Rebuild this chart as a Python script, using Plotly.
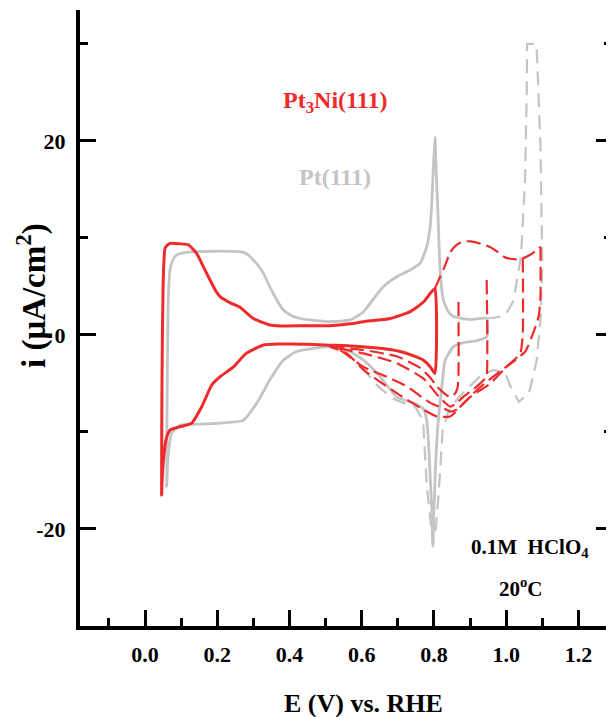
import plotly.graph_objects as go

# ---------------- data ----------------
# Pt3Ni(111), solid CV to 0.8 V
ptni_E = [0.046, 0.047, 0.050, 0.056, 0.069, 0.095, 0.120, 0.143, 0.162, 0.180, 0.195, 0.208, 0.235, 0.263,
          0.300, 0.346, 0.374, 0.45, 0.51, 0.568, 0.605, 0.679, 0.734, 0.771, 0.790, 0.803,
          0.803, 0.790, 0.771, 0.740, 0.706, 0.651, 0.568, 0.512, 0.45, 0.374, 0.328, 0.280, 0.245,
          0.208, 0.185, 0.157, 0.129, 0.097, 0.069, 0.058, 0.052, 0.048, 0.046]
ptni_i = [-16.5, -5, 5, 9.0, 9.45, 9.4, 9.3, 8.4, 7.0, 5.67, 4.6, 3.95, 3.33, 2.85,
          1.7, 1.03, 0.93, 0.95, 0.96, 1.15, 1.37, 1.7, 2.4, 3.4, 4.3, 4.8,
          -3.96, -3.3, -2.6, -2.1, -1.7, -1.37, -1.13, -1.05, -0.95, -0.93, -1.03, -1.9, -3.3,
          -4.3, -5.15, -7.4, -9.1, -9.45, -9.8, -10.8, -12.5, -14.5, -16.5]

# Pt(111), solid CV to 0.95 V
pt_E = [0.060, 0.061, 0.064, 0.069, 0.078, 0.088, 0.11, 0.143, 0.20, 0.263, 0.28, 0.291, 0.31, 0.328,
        0.345, 0.365, 0.38, 0.402, 0.43, 0.457, 0.51, 0.568, 0.605, 0.63, 0.66, 0.697, 0.734, 0.762,
        0.78, 0.789, 0.794, 0.798, 0.803, 0.806, 0.81, 0.817, 0.826, 0.84, 0.854, 0.90, 0.946,
        0.946, 0.919, 0.882, 0.854, 0.831, 0.822, 0.812, 0.805, 0.800, 0.797, 0.794, 0.790, 0.785,
        0.780, 0.77, 0.743, 0.697, 0.651, 0.605, 0.559, 0.512, 0.42, 0.383, 0.346, 0.31, 0.272,
        0.235, 0.15, 0.097, 0.074, 0.064, 0.060]
pt_i = [-15.6, -8, 3, 6.7, 7.8, 8.25, 8.5, 8.6, 8.65, 8.6, 8.4, 8.07, 7.3, 6.35,
        5.0, 3.6, 2.7, 2.06, 1.7, 1.55, 1.37, 1.55, 2.4, 3.6, 4.98, 6.0, 6.7, 7.4,
        9.1, 11, 13.6, 17, 20.4, 17, 13.6, 6.7, 3.6, 2.4, 1.9, 1.6, 1.7,
        -0.17, -0.58, -0.79, -1.2, -2.6, -5.3, -8.8, -13, -18, -21.8, -18, -15, -11,
        -8.8, -7.6, -7.0, -6.4, -4.3, -2.6, -1.55, -1.2, -1.7, -2.6, -4.6, -7.0, -8.8,
        -9.0, -9.2, -9.3, -10.1, -12.5, -15.6]

# Pt(111), dashed extension to 1.1 V
ptd_E = [0.946, 0.97, 0.997, 1.02, 1.041, 1.052, 1.057, 1.058, 1.084, 1.090, 1.095, 1.10, 1.095,
         1.084, 1.063, 1.035, 1.014, 0.997, 0.965, 0.932, 0.90, 0.867, 0.84, 0.824, 0.813, 0.805,
         0.797, 0.788, 0.78, 0.77, 0.748, 0.715, 0.683, 0.64, 0.60]
ptd_i = [1.7, 1.8, 2.0, 3.5, 8.1, 15.7, 25, 30, 30, 25, 19.5, 7.2, 1.5,
         -2.7, -6.0, -6.9, -5.5, -3.9, -3.6, -4.1, -5.3, -6.5, -7.9, -9.8, -16.4, -20,
         -21.5, -18, -15.5, -8.8, -7.4, -7.0, -6.5, -5.1, -3.3]

# Pt3Ni(111), dashed anodic extension (common to all upper limits)
ano_E = [0.803, 0.817, 0.829, 0.845, 0.857, 0.870, 0.884, 0.90, 0.916, 0.935, 0.954, 0.975,
         0.997, 1.03, 1.046, 1.063, 1.080, 1.095]
ano_i = [4.8, 6.0, 7.0, 8.5, 9.1, 9.45, 9.65, 9.65, 9.55, 9.35, 9.1, 8.6,
         8.0, 7.8, 7.9, 8.2, 8.6, 9.1]

# Pt3Ni(111), dashed cathodic sweeps for upper limits 0.87, 0.95, 1.05, 1.1 V
c087_E = [0.868, 0.868, 0.865, 0.855, 0.845, 0.835, 0.808, 0.79, 0.762, 0.697, 0.605, 0.512]
c087_i = [3.4, -4.0, -5.5, -6.2, -6.4, -6.2, -5.3, -4.4, -3.4, -2.2, -1.55, -1.2]
c095_E = [0.946, 0.946, 0.942, 0.919, 0.882, 0.860, 0.845, 0.817, 0.771, 0.697, 0.605, 0.512]
c095_i = [5.67, -4.3, -4.5, -5.3, -6.36, -7.1, -7.4, -6.5, -4.5, -2.9, -1.9, -1.2]
c105_E = [1.046, 1.046, 1.039, 1.0, 0.956, 0.90, 0.863, 0.845, 0.835, 0.79, 0.725, 0.669, 0.605, 0.54, 0.512]
c105_i = [7.9, 0.17, -1.9, -3.3, -5.0, -6.4, -7.7, -7.9, -7.7, -7.0, -5.3, -4.3, -3.3, -1.55, -1.2]
c110_E = [1.095, 1.095, 1.09, 1.071, 1.053, 1.02, 0.974, 0.919, 0.873, 0.845, 0.808, 0.771, 0.697,
          0.605, 0.559, 0.512]
c110_i = [9.1, 4.0, 1.9, -0.17, -1.7, -2.75, -4.0, -5.67, -7.4, -8.4, -8.4, -7.7, -6.0,
          -3.6, -1.9, -1.2]

x_ticks = [0.0, 0.2, 0.4, 0.6, 0.8, 1.0, 1.2]
x_ticklabels = ["0.0", "0.2", "0.4", "0.6", "0.8", "1.0", "1.2"]
y_ticks = [-20, 0, 20]
y_ticklabels = ["-20", "0", "20"]

RED = "#ee2a2a"
GRAY = "#c4c4c4"
FONT = "Liberation Serif"

# page offset of the plot div (browser default body margin)
OFF = 8
W, H = 614, 717
PL, PR, PT, PB = 80, 612, 10, 626   # plot area in page pixels

fig = go.Figure()

def add(x, y, color, width, dash="solid", shape="linear"):
    fig.add_trace(go.Scatter(x=x, y=y, mode="lines", showlegend=False, hoverinfo="skip",
                             line=dict(color=color, width=width, dash=dash, shape=shape,
                                       smoothing=0.5 if shape == "spline" else None)))

add(pt_E, pt_i, GRAY, 2.8, shape="spline")
add(ptd_E, ptd_i, GRAY, 2.2, "14px,8px")
add(c087_E, c087_i, RED, 2.2, "14px,6px", "spline")
add(c095_E, c095_i, RED, 2.2, "14px,6px", "spline")
add(c105_E, c105_i, RED, 2.2, "14px,6px", "spline")
add(c110_E, c110_i, RED, 2.2, "14px,6px", "spline")
add(ano_E, ano_i, RED, 2.2, "14px,6px", "spline")
add(ptni_E, ptni_i, RED, 3.0, shape="spline")

axis_font = dict(family=FONT, size=22, color="black", weight="bold")

fig.update_xaxes(range=[-0.18, 1.293], showline=True, linewidth=4, linecolor="black", mirror=False,
                 ticks="inside", ticklen=16, tickwidth=3, tickcolor="black",
                 tickvals=x_ticks, ticktext=x_ticklabels, tickfont=axis_font,
                 minor=dict(ticks="inside", ticklen=8, tickwidth=3, tickcolor="black", dtick=0.1, tick0=0),
                 showgrid=False, zeroline=False, ticklabelstandoff=6, automargin=False)
fig.update_yaxes(range=[-30, 33.5], showline=True, linewidth=4, linecolor="black", mirror="ticks",
                 ticks="inside", ticklen=16, tickwidth=3, tickcolor="black",
                 tickvals=y_ticks, ticktext=y_ticklabels, tickfont=axis_font,
                 minor=dict(ticks="inside", ticklen=8, tickwidth=3, tickcolor="black", dtick=10, tick0=0),
                 showgrid=False, zeroline=False, ticklabelstandoff=6, automargin=False)

def px(x):
    return (x - PL) / (PR - PL)

def py(y):
    return (PB - y) / (PB - PT)

ann = [
    dict(x=0.525, y=24.0, xref="x", yref="y", text="Pt<sub>3</sub>Ni(111)", showarrow=False,
         font=dict(family=FONT, size=24, color=RED, weight="bold")),
    dict(x=0.527, y=16.3, xref="x", yref="y", text="Pt(111)", showarrow=False,
         font=dict(family=FONT, size=24, color=GRAY, weight="bold")),
    dict(x=1.067, y=-22.0, xref="x", yref="y", text="0.1M\u00a0 HClO<sub>4</sub>", showarrow=False,
         font=dict(family=FONT, size=21, color="black", weight="bold")),
    dict(x=1.04, y=-26.0, xref="x", yref="y", text="20<sup>o</sup>C", showarrow=False,
         font=dict(family=FONT, size=21, color="black", weight="bold")),
    dict(x=px(363), y=py(703), xref="paper", yref="paper", text="E (V) vs. RHE",
         showarrow=False, xanchor="center", yanchor="middle",
         font=dict(family=FONT, size=26, color="black", weight="bold")),
    dict(x=px(31), y=py(296), xref="paper", yref="paper",
         text="i (μA/cm<sup>2</sup>)", textangle=-90, showarrow=False, xanchor="center", yanchor="middle",
         font=dict(family=FONT, size=33, color="black", weight="bold")),
]

fig.update_layout(width=W - OFF, height=H - OFF,
                  margin=dict(l=PL - OFF, r=W - PR, t=PT - OFF, b=H - PB),
                  plot_bgcolor="white", paper_bgcolor="white", annotations=ann)

fig.write_html("out.html")
